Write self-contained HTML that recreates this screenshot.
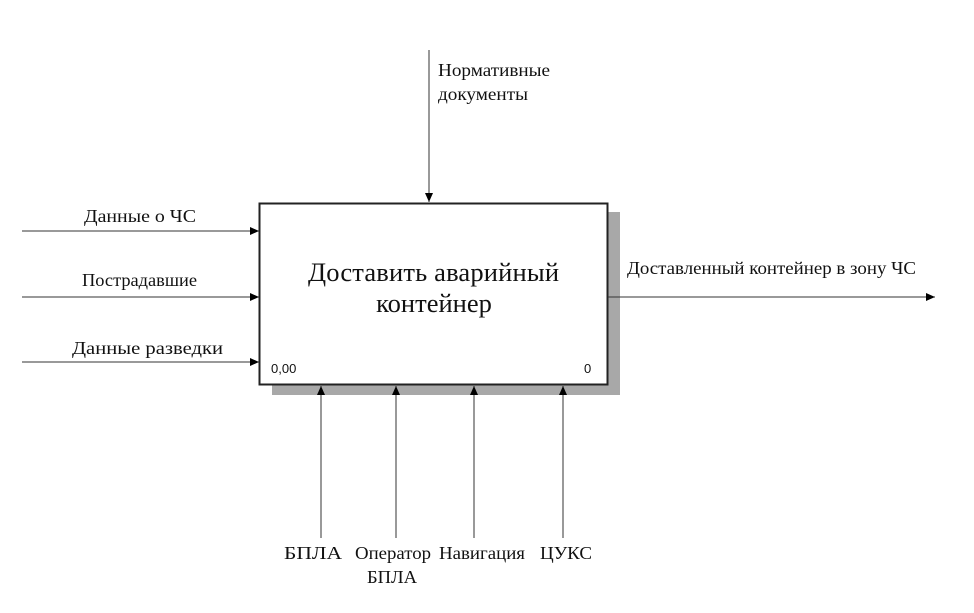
<!DOCTYPE html>
<html><head><meta charset="utf-8"><style>
body{margin:0;background:#fff}
svg text{font-family:"Liberation Serif",serif;fill:#111}
</style></head><body>
<svg width="974" height="608" viewBox="0 0 974 608" xmlns="http://www.w3.org/2000/svg">
<defs><marker id="a" markerWidth="10" markerHeight="8" refX="9" refY="4" orient="auto" markerUnits="userSpaceOnUse"><path d="M0,0 L9,4 L0,8z" fill="#000"/></marker></defs>
<rect x="607" y="212" width="13" height="183" fill="#a8a8a8"/>
<rect x="272" y="384" width="348" height="11" fill="#a8a8a8"/>
<rect x="259.5" y="203.5" width="348" height="181" fill="#fff" stroke="#222" stroke-width="2"/>
<text x="308" y="281" font-size="26.5" textLength="251">Доставить аварийный</text>
<text x="434" y="312" font-size="26.5" text-anchor="middle">контейнер</text>
<text x="271" y="373" font-size="13" style="font-family:'Liberation Sans',sans-serif">0,00</text>
<text x="584" y="373" font-size="13" style="font-family:'Liberation Sans',sans-serif">0</text>
<g stroke="#333" stroke-width="1">
<line x1="22" y1="231" x2="259" y2="231" marker-end="url(#a)"/>
<line x1="22" y1="297" x2="259" y2="297" marker-end="url(#a)"/>
<line x1="22" y1="362" x2="259" y2="362" marker-end="url(#a)"/>
<line x1="608" y1="297" x2="935" y2="297" marker-end="url(#a)"/>
<line x1="429" y1="50" x2="429" y2="202" marker-end="url(#a)"/>
<line x1="321" y1="538" x2="321" y2="386" marker-end="url(#a)"/>
<line x1="396" y1="538" x2="396" y2="386" marker-end="url(#a)"/>
<line x1="474" y1="538" x2="474" y2="386" marker-end="url(#a)"/>
<line x1="563" y1="538" x2="563" y2="386" marker-end="url(#a)"/>
</g>
<g font-size="18" lengthAdjust="spacingAndGlyphs">
<text x="84" y="222" textLength="112" lengthAdjust="spacingAndGlyphs">Данные о ЧС</text>
<text x="82" y="286" textLength="115" lengthAdjust="spacingAndGlyphs">Пострадавшие</text>
<text x="72" y="354" textLength="151" lengthAdjust="spacingAndGlyphs">Данные разведки</text>
<text x="438" y="76" textLength="112" lengthAdjust="spacingAndGlyphs">Нормативные</text>
<text x="438" y="100" textLength="90" lengthAdjust="spacingAndGlyphs">документы</text>
<text x="627" y="274" textLength="289" lengthAdjust="spacingAndGlyphs">Доставленный контейнер в зону ЧС</text>
<text x="284" y="559" textLength="58" lengthAdjust="spacingAndGlyphs">БПЛА</text>
<text x="355" y="559" textLength="76" lengthAdjust="spacingAndGlyphs">Оператор</text>
<text x="367" y="583" textLength="50" lengthAdjust="spacingAndGlyphs">БПЛА</text>
<text x="439" y="559" textLength="86" lengthAdjust="spacingAndGlyphs">Навигация</text>
<text x="540" y="559" textLength="52" lengthAdjust="spacingAndGlyphs">ЦУКС</text>
</g>
</svg>
</body></html>
